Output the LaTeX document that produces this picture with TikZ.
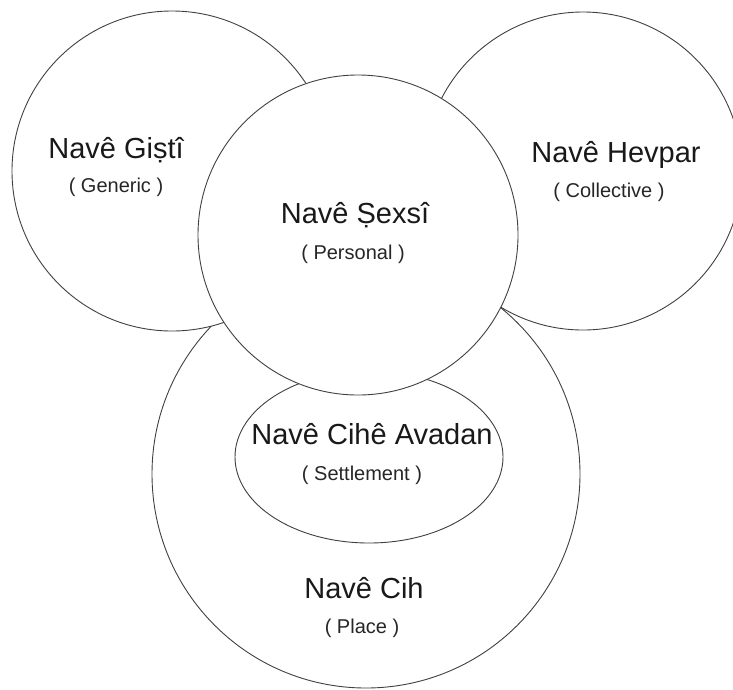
\documentclass[tikz,border=0pt]{standalone}
\usepackage{fontspec}
\setmainfont{Liberation Sans}
\usetikzlibrary{shapes.geometric}
\begin{document}
\begin{tikzpicture}[x=1pt,y=-1pt,
  ring/.style={circle, draw=black!75, line width=0.9pt, fill=white, inner sep=0pt},
  oval/.style={ellipse, draw=black!75, line width=0.9pt, fill=white, inner sep=0pt},
  title/.style={font=\fontsize{29}{32}\selectfont, text=black!90, anchor=base},
  sub/.style={font=\fontsize{20}{22}\selectfont, text=black!85, anchor=base}]
\useasboundingbox (0,0) rectangle (733,689);
\node[ring, minimum size=428pt] (place) at (366,474) {};
\node[oval, minimum width=268pt, minimum height=172pt] (settle) at (369,457) {};
\node[ring, minimum size=320pt] (generic) at (172,171) {};
\node[ring, minimum size=318pt] (collective) at (583,171) {};
\node[ring, minimum size=320pt] (personal) at (358,235) {};
\node[title] (genericT) at (116,158) {Navê Giṣtî};
\node[sub] (genericS) at (116,192) {( Generic )};
\node[title] (personalT) at (355,223) {Navê Ṣexsî};
\node[sub] (personalS) at (353,259) {( Personal )};
\node[title] (collectiveT) at (616,162) {Navê Hevpar};
\node[sub] (collectiveS) at (609,197) {( Collective )};
\node[title] (settleT) at (372,444) {Navê Cihê Avadan};
\node[sub] (settleS) at (362,480) {( Settlement )};
\node[title] (placeT) at (364,598) {Navê Cih};
\node[sub] (placeS) at (362,633) {( Place )};
\end{tikzpicture}
\end{document}
